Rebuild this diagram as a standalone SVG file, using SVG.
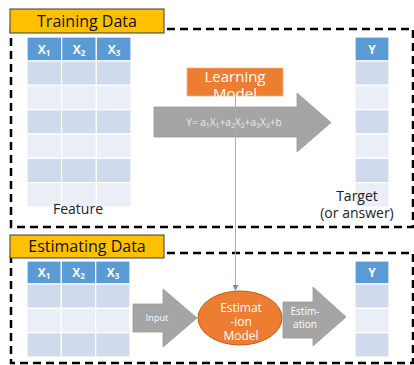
<svg xmlns="http://www.w3.org/2000/svg" width="414" height="365" viewBox="0 0 414 365">
<defs>
<style>
.frame{fill:none;stroke:#000;stroke-width:2.5;stroke-dasharray:8 5}
.lbl{fill:#FFC000;stroke:#3a3a3a;stroke-width:1}
.lbltxt{font-family:"Open Sans","Noto Sans",sans-serif;font-size:16px;fill:#111}
.hd{fill:#5B9BD5;stroke:#fff;stroke-width:1.2}
.dk{fill:#CFDAEC;stroke:#fff;stroke-width:1.2}
.lt{fill:#E9EEF7;stroke:#fff;stroke-width:1.2}
.ht{font-family:"Open Sans","Noto Sans",sans-serif;font-size:12px;font-weight:bold;fill:#fff;text-anchor:middle}
.cap{font-family:"Open Sans","Noto Sans",sans-serif;font-size:14px;fill:#222;text-anchor:middle}
.arr{fill:#A5A5A5;stroke:#999;stroke-width:0.8}
.wt{font-family:"Open Sans","Noto Sans",sans-serif;fill:#fff;text-anchor:middle}
</style>
<marker id="ah" markerWidth="6" markerHeight="6" refX="5" refY="3" orient="auto" markerUnits="userSpaceOnUse">
<path d="M0,0 L6,3 L0,6 z" fill="#5B9BD5"/>
</marker>
</defs>

<!-- Training frame -->
<g id="training-frame">
<rect class="frame" x="11" y="29" width="402" height="198"/>
<rect class="lbl" x="10" y="9" width="154" height="24"/>
<text class="lbltxt" x="87" y="27" text-anchor="middle">Training Data</text>
</g>

<!-- Training feature table -->
<g id="train-features">
<rect class="hd" x="27" y="37" width="34.7" height="24"/>
<rect class="hd" x="61.7" y="37" width="34.7" height="24"/>
<rect class="hd" x="96.3" y="37" width="34.7" height="24"/>
<text class="ht" x="44" y="54">X<tspan font-size="8" dy="2">1</tspan></text>
<text class="ht" x="79" y="54">X<tspan font-size="8" dy="2">2</tspan></text>
<text class="ht" x="114" y="54">X<tspan font-size="8" dy="2">3</tspan></text>
<rect class="dk" x="27" y="61" width="34.7" height="24.3"/><rect class="dk" x="61.7" y="61" width="34.7" height="24.3"/><rect class="dk" x="96.3" y="61" width="34.7" height="24.3"/>
<rect class="lt" x="27" y="85.3" width="34.7" height="24.3"/><rect class="lt" x="61.7" y="85.3" width="34.7" height="24.3"/><rect class="lt" x="96.3" y="85.3" width="34.7" height="24.3"/>
<rect class="dk" x="27" y="109.7" width="34.7" height="24.3"/><rect class="dk" x="61.7" y="109.7" width="34.7" height="24.3"/><rect class="dk" x="96.3" y="109.7" width="34.7" height="24.3"/>
<rect class="lt" x="27" y="134" width="34.7" height="24.3"/><rect class="lt" x="61.7" y="134" width="34.7" height="24.3"/><rect class="lt" x="96.3" y="134" width="34.7" height="24.3"/>
<rect class="dk" x="27" y="158.3" width="34.7" height="24.3"/><rect class="dk" x="61.7" y="158.3" width="34.7" height="24.3"/><rect class="dk" x="96.3" y="158.3" width="34.7" height="24.3"/>
<rect class="lt" x="27" y="182.7" width="34.7" height="24.3"/><rect class="lt" x="61.7" y="182.7" width="34.7" height="24.3"/><rect class="lt" x="96.3" y="182.7" width="34.7" height="24.3"/>
<text class="cap" x="78" y="214">Feature</text>
</g>

<!-- Training target table -->
<g id="train-target">
<rect class="hd" x="355" y="37" width="34" height="24"/>
<text class="ht" x="372" y="54">Y</text>
<rect class="dk" x="355" y="61" width="34" height="24.3"/>
<rect class="lt" x="355" y="85.3" width="34" height="24.3"/>
<rect class="dk" x="355" y="109.7" width="34" height="24.3"/>
<rect class="lt" x="355" y="134" width="34" height="24.3"/>
<rect class="dk" x="355" y="158.3" width="34" height="24.3"/>
<rect class="lt" x="355" y="182.7" width="34" height="24.3"/>
<text class="cap" x="357" y="201" font-size="13.5">Target</text>
<text class="cap" x="357" y="218" font-size="13.5">(or answer)</text>
</g>

<!-- Learning model -->
<g id="learning-model">
<rect x="187" y="68" width="96" height="28" fill="#ED7D31" stroke="#F4B183" stroke-width="0.8"/>
<text class="wt" x="235" y="82" font-size="15">Learning</text>
<text class="wt" x="235" y="99" font-size="15">Model</text>
</g>

<!-- Big regression arrow -->
<g id="regression-arrow">
<path class="arr" d="M154,107 L297,107 L297,93 L331,122.5 L297,152 L297,137 L154,137 z"/>
<text x="234" y="126" font-family="Open Sans,Noto Sans,sans-serif" font-size="10" fill="#ececec" text-anchor="middle">Y= a<tspan font-size="7" dy="2">1</tspan><tspan dy="-2">X</tspan><tspan font-size="7" dy="2">1</tspan><tspan dy="-2">+a</tspan><tspan font-size="7" dy="2">2</tspan><tspan dy="-2">X</tspan><tspan font-size="7" dy="2">2</tspan><tspan dy="-2">+a</tspan><tspan font-size="7" dy="2">3</tspan><tspan dy="-2">X</tspan><tspan font-size="7" dy="2">3</tspan><tspan dy="-2">+b</tspan></text>
</g>

<!-- Estimating frame -->
<g id="estimating-frame">
<rect class="frame" x="11" y="253" width="402" height="110"/>
<rect class="lbl" x="10" y="235" width="154" height="23"/>
<text class="lbltxt" x="87" y="252" text-anchor="middle">Estimating Data</text>
</g>

<!-- Estimating feature table -->
<g id="est-features">
<rect class="hd" x="27" y="261" width="34.3" height="23"/>
<rect class="hd" x="61.3" y="261" width="34.3" height="23"/>
<rect class="hd" x="95.7" y="261" width="34.3" height="23"/>
<text class="ht" x="44" y="277">X<tspan font-size="8" dy="2">1</tspan></text>
<text class="ht" x="78.5" y="277">X<tspan font-size="8" dy="2">2</tspan></text>
<text class="ht" x="113" y="277">X<tspan font-size="8" dy="2">3</tspan></text>
<rect class="dk" x="27" y="284" width="34.3" height="24.3"/><rect class="dk" x="61.3" y="284" width="34.3" height="24.3"/><rect class="dk" x="95.7" y="284" width="34.3" height="24.3"/>
<rect class="lt" x="27" y="308.3" width="34.3" height="24.3"/><rect class="lt" x="61.3" y="308.3" width="34.3" height="24.3"/><rect class="lt" x="95.7" y="308.3" width="34.3" height="24.3"/>
<rect class="dk" x="27" y="332.7" width="34.3" height="24.3"/><rect class="dk" x="61.3" y="332.7" width="34.3" height="24.3"/><rect class="dk" x="95.7" y="332.7" width="34.3" height="24.3"/>
</g>

<!-- Estimating target table -->
<g id="est-target">
<rect class="hd" x="355" y="261" width="34" height="23"/>
<text class="ht" x="372" y="277">Y</text>
<rect class="dk" x="355" y="284" width="34" height="24.3"/>
<rect class="lt" x="355" y="308.3" width="34" height="24.3"/>
<rect class="dk" x="355" y="332.7" width="34" height="24.3"/>
</g>

<!-- Input arrow -->
<g id="input-arrow">
<path class="arr" d="M133,304 L163,304 L163,289 L197,318 L163,347 L163,332 L133,332 z"/>
<text class="wt" x="157" y="321" font-size="9">Input</text>
</g>

<!-- Estimation model -->
<g id="estimation-model">
<ellipse cx="240" cy="318" rx="42" ry="27" fill="#ED7D31" stroke="#C55A11" stroke-width="1"/>
<text class="wt" x="241" y="312" font-size="12">Estimat</text>
<text class="wt" x="241" y="326" font-size="12">-ion</text>
<text class="wt" x="241" y="340" font-size="12">Model</text>
</g>

<!-- Estimation arrow -->
<g id="estimation-arrow">
<path class="arr" d="M283,302 L313,302 L313,287 L346,317 L313,346 L313,338 L283,338 z"/>
<text class="wt" x="305" y="315" font-size="10">Estim-</text>
<text class="wt" x="305" y="328" font-size="10">ation</text>
</g>

<!-- Connectors -->
<g id="connectors">
<line x1="235.5" y1="96" x2="235.5" y2="290" stroke="#8FB4E0" stroke-width="1" marker-end="url(#ah)"/>
</g>
</svg>
